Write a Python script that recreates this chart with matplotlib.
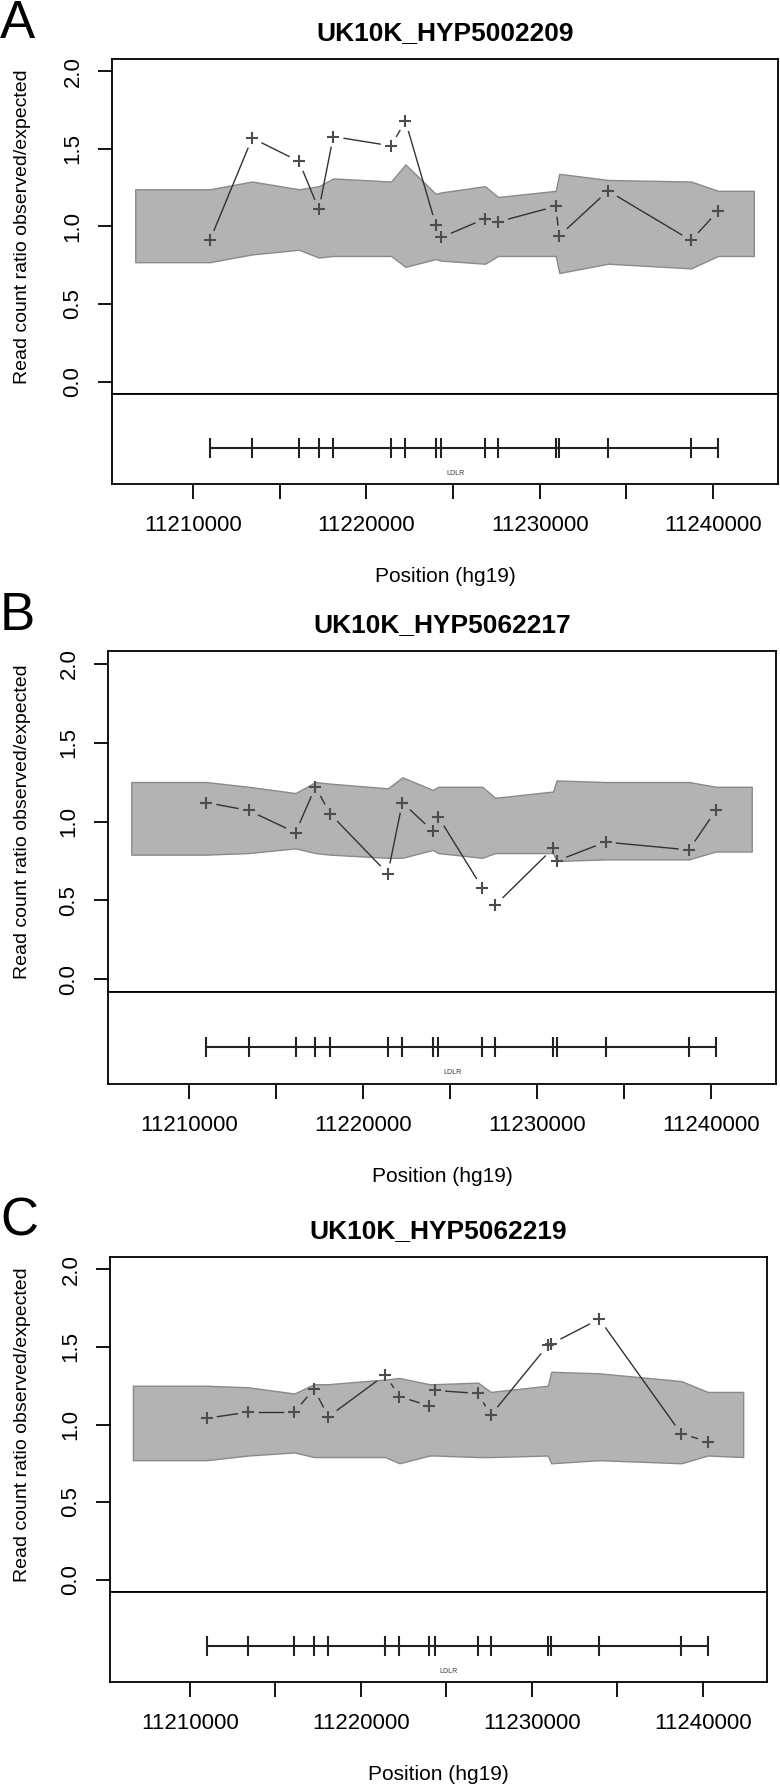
import numpy as np
import matplotlib
matplotlib.use('Agg')
import matplotlib.pyplot as plt

plt.rcParams['font.family'] = ['Liberation Sans', 'DejaVu Sans']

# ---- data ----
samples = ['UK10K_HYP5002209', 'UK10K_HYP5062217', 'UK10K_HYP5062219']
letters = ['A', 'B', 'C']
gene_name = 'LDLR'

exon_pos = [11210976, 11213416, 11216115, 11217263, 11218096, 11221426, 11222259, 11224010,
            11224326, 11226852, 11227599, 11230929, 11231131, 11233944, 11238738, 11240289]
band_start = 11206670
band_end = 11242356

ratio_a = [0.91, 1.57, 1.42, 1.11, 1.58, 1.52, 1.68, 1.01, 0.93, 1.05, 1.03, 1.13, 0.94, 1.23, 0.91, 1.10]
upper_a = [1.24, 1.24, 1.29, 1.24, 1.26, 1.31, 1.29, 1.40, 1.21, 1.22, 1.26, 1.19, 1.23, 1.34, 1.30, 1.29, 1.23, 1.23]
lower_a = [0.77, 0.77, 0.82, 0.85, 0.80, 0.81, 0.81, 0.74, 0.79, 0.78, 0.76, 0.81, 0.81, 0.70, 0.76, 0.73, 0.81, 0.81]

ratio_b = [1.12, 1.07, 0.93, 1.22, 1.05, 0.67, 1.12, 0.94, 1.03, 0.58, 0.47, 0.83, 0.75, 0.87, 0.82, 1.07]
upper_b = [1.25, 1.25, 1.22, 1.18, 1.25, 1.24, 1.21, 1.28, 1.20, 1.22, 1.22, 1.15, 1.19, 1.26, 1.25, 1.25, 1.22, 1.22]
lower_b = [0.79, 0.79, 0.80, 0.83, 0.80, 0.79, 0.77, 0.77, 0.82, 0.80, 0.77, 0.80, 0.80, 0.75, 0.76, 0.76, 0.81, 0.81]

ratio_c = [1.04, 1.08, 1.08, 1.23, 1.05, 1.32, 1.18, 1.12, 1.22, 1.20, 1.06, 1.51, 1.52, 1.68, 0.94, 0.89]
upper_c = [1.25, 1.25, 1.24, 1.20, 1.26, 1.26, 1.29, 1.30, 1.26, 1.26, 1.27, 1.21, 1.25, 1.34, 1.33, 1.28, 1.21, 1.21]
lower_c = [0.77, 0.77, 0.80, 0.82, 0.79, 0.79, 0.79, 0.75, 0.80, 0.80, 0.79, 0.79, 0.80, 0.75, 0.77, 0.75, 0.80, 0.79]

ratios = [ratio_a, ratio_b, ratio_c]
uppers = [upper_a, upper_b, upper_c]
lowers = [lower_a, lower_b, lower_c]

xtick_pos = [11210000, 11215000, 11220000, 11225000, 11230000, 11235000, 11240000]
xtick_labels = ['11210000', '', '11220000', '', '11230000', '', '11240000']
ytick_pos = [0.0, 0.5, 1.0, 1.5, 2.0]
ytick_labels = ['0.0', '0.5', '1.0', '1.5', '2.0']

# ---- layout (pixels): left, right, top, divider, bottom ----
W, H = 780, 1786
boxes = [(112, 778, 59, 394, 484),
         (108, 776, 651, 992, 1084),
         (110, 767, 1257, 1592, 1682)]
xlim = (11205330, 11243750)

fig = plt.figure(figsize=(W / 100, H / 100), dpi=100)


def frac(l, r, t, b):
    return [l / W, 1 - b / H, (r - l) / W, (b - t) / H]


def gapped_line(ax, xs, ys, gap=11):
    # R type="b": segments stop short of each point
    pts = ax.transData.transform(np.column_stack([xs, ys]))
    inv = ax.transData.inverted()
    for p, q in zip(pts[:-1], pts[1:]):
        d = np.hypot(*(q - p))
        if d <= 2 * gap:
            continue
        u = (q - p) / d
        a, b = inv.transform(np.array([p + gap * u, q - gap * u]))
        ax.plot([a[0], b[0]], [a[1], b[1]], color='#333333', lw=1.0, zorder=3)


for i in range(3):
    l, r, t, dv, b = boxes[i]
    band_x = [band_start] + exon_pos + [band_end]

    ax = fig.add_axes(frac(l, r, t, dv))
    ax.set_xlim(*xlim)
    ax.set_ylim(-0.08, 2.08)
    ax.fill_between(band_x, lowers[i], uppers[i], facecolor='#b3b3b3',
                    edgecolor='#8a8a8a', lw=1.0, zorder=1)
    gapped_line(ax, exon_pos, ratios[i])
    ax.plot(exon_pos, ratios[i], ls='none', marker='+', ms=9, mew=1.5,
            color='#4d4d4d', zorder=4)
    ax.set_xticks([])
    ax.set_yticks(ytick_pos)
    ax.set_yticklabels(ytick_labels, rotation=90, ha='center', va='center', fontsize=16)
    ax.tick_params(axis='y', length=10, width=1.3, pad=18)
    for s in ax.spines.values():
        s.set_linewidth(1.3)
    ax.set_title(samples[i], fontsize=19, fontweight='bold', pad=14)

    gx = fig.add_axes(frac(l, r, dv, b))
    gx.set_xlim(*xlim)
    gx.set_ylim(0, 1)
    gx.hlines(0.4, exon_pos[0], exon_pos[-1], color='#222222', lw=1.5)
    gx.vlines(exon_pos, 0.29, 0.51, color='#222222', lw=1.5)
    gx.text(sum(xlim) / 2 + 600, 0.12, gene_name, fontsize=5, ha='center',
            va='center', color='#333333')
    gx.set_yticks([])
    gx.set_xticks(xtick_pos)
    gx.set_xticklabels(xtick_labels, fontsize=16)
    gx.tick_params(axis='x', length=11, width=1.3, pad=11)
    for s in gx.spines.values():
        s.set_linewidth(1.3)

    fig.text(23 / W, 1 - (t + dv) / 2 / H, 'Read count ratio observed/expected',
             rotation=90, ha='center', va='center', fontsize=14)
    fig.text((l + r) / 2 / W, 1 - (b + 93) / H, 'Position (hg19)',
             ha='center', va='center', fontsize=15)
    fig.text(0, 1 - (t - 21) / H, letters[i], fontsize=38, ha='left',
             va='baseline')

fig.savefig('out.png', dpi=100)
